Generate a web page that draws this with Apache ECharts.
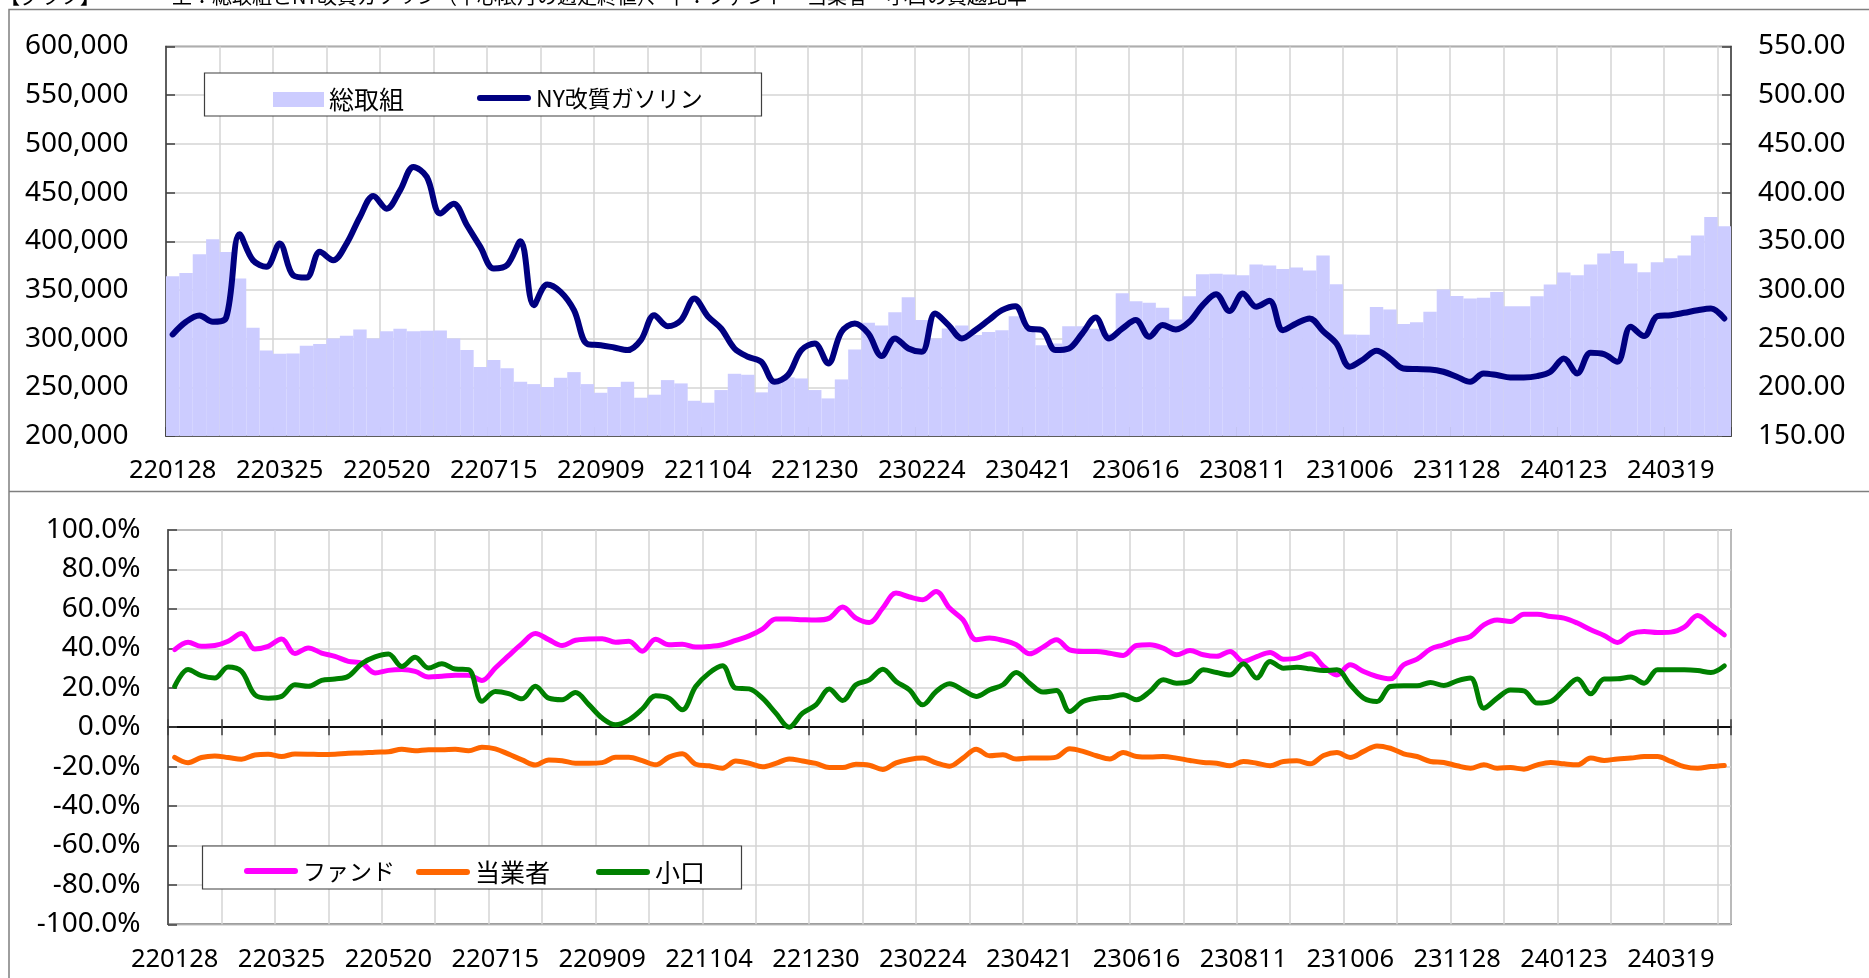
<!DOCTYPE html>
<html><head><meta charset="utf-8">
<script src="https://cdn.jsdelivr.net/npm/echarts@6/dist/echarts.min.js"></script>
<style>html,body{margin:0;padding:0;background:#fff}#c{width:1869px;height:978px}</style>
</head><body><div id="c"></div>
<script>
const dates = ['220128','220204','220211','220218','220225','220304','220311','220318','220325','220401','220408','220415','220422','220429','220506','220513','220520','220527','220603','220610','220617','220624','220701','220708','220715','220722','220729','220805','220812','220819','220826','220902','220909','220916','220923','220930','221007','221014','221021','221028','221104','221111','221118','221125','221202','221209','221216','221223','221230','230106','230113','230120','230127','230203','230210','230217','230224','230303','230310','230317','230324','230331','230407','230414','230421','230428','230505','230512','230519','230526','230602','230609','230616','230623','230630','230707','230714','230721','230728','230804','230811','230818','230825','230901','230908','230915','230922','230929','231006','231010','231017','231024','231031','231107','231114','231121','231128','231205','231212','231219','231226','240102','240109','240116','240123','240130','240206','240213','240220','240227','240305','240312','240319','240326','240402','240409','240416'];

const totalOI = [364100,367500,386700,402000,389000,361700,311100,287900,284400,284800,292700,294400,300200,302900,309400,300200,307700,310100,307700,308000,308400,300200,288200,270800,278000,269700,255700,253300,250300,259800,265600,253300,244400,250300,255700,239300,242400,257400,254000,236200,234200,247200,263900,262900,244800,255000,260200,259100,247200,238600,258100,288900,316200,313500,327200,342600,319000,300200,310400,313500,303600,306700,308700,323100,311100,293300,295000,312800,312800,310100,305300,346700,338500,336800,331600,319700,343600,366200,366500,365800,365100,376100,375100,371600,373000,369900,385300,355900,304300,304000,332600,329900,314900,316900,327500,350400,343900,341200,341900,348000,333300,333300,343600,355600,367900,365100,376100,387400,390100,377100,368200,378500,382600,385300,405800,425000,415400];

const gasoline = [254.3,267.3,273.8,267.3,271.7,357.2,330.5,323.7,347.6,315.1,312.7,339.1,330.5,347.6,375.0,396.5,383.5,402.3,426.3,416.0,378.4,388.6,366.4,344.2,322.0,325.4,350.0,284.4,305.6,298.0,279.2,244.4,243.3,240.9,238.2,248.5,274.1,262.8,268.9,291.2,273.1,260.4,239.9,231.4,226.2,205.7,212.6,238.2,245.0,224.5,257.0,265.6,255.3,232.1,250.2,239.9,236.5,275.8,263.9,250.2,258.7,269.0,279.2,283.3,260.4,258.7,238.2,239.9,255.3,271.7,250.2,260.4,269.0,251.9,263.9,259.4,267.3,284.4,295.5,278.4,296.3,282.7,288.8,258.7,265.6,270.7,257.7,245.0,221.1,228.6,237.5,229.7,219.4,218.7,218.4,216.0,210.9,205.7,214.3,212.6,210.2,210.2,211.5,216.0,229.7,214.3,235.5,234.1,226.2,262.1,252.6,273.1,274.1,276.5,279.2,281.0,270.7];

const fund = [39.3,43.1,41.0,41.4,43.6,47.5,39.7,41.0,44.7,37.3,40.2,37.6,35.9,33.4,32.5,27.5,28.8,29.2,28.3,25.4,25.8,26.3,26.3,23.7,30.0,36.3,42.4,47.5,44.4,41.4,44.1,44.7,44.9,43.1,43.6,38.5,44.6,41.8,42.1,40.6,40.9,41.8,44.0,46.3,49.7,54.8,54.8,54.5,54.3,55.3,60.9,55.3,53.1,60.4,68.0,66.0,64.6,68.8,60.4,54.5,44.3,45.2,44.0,41.8,37.2,40.6,44.3,39.2,38.4,38.4,37.5,36.4,41.4,41.8,40.1,36.7,38.9,36.7,35.9,38.4,33.3,35.8,37.9,34.5,35.0,37.2,30.8,26.5,31.6,28.2,25.7,24.5,31.6,34.5,39.6,41.8,44.3,46.0,51.9,54.4,53.6,57.3,57.3,56.1,55.3,52.8,49.4,46.5,43.0,47.3,48.5,48.0,48.2,50.7,56.6,51.9,46.8];

const commercial = [-15.3,-18.0,-15.4,-14.6,-15.4,-16.3,-14.1,-13.7,-14.9,-13.6,-13.7,-13.9,-13.7,-13.2,-13.1,-12.7,-12.5,-11.2,-12.0,-11.4,-11.4,-11.2,-12.0,-10.2,-11.0,-13.7,-16.6,-19.2,-16.6,-17.0,-18.3,-18.3,-18.0,-15.3,-15.3,-17.0,-19.1,-15.2,-13.5,-18.8,-19.6,-20.8,-17.2,-18.3,-20.1,-18.4,-16.1,-17.2,-18.4,-20.5,-20.5,-18.8,-19.3,-21.5,-18.1,-16.4,-15.7,-18.1,-19.8,-15.7,-11.2,-14.5,-14.0,-16.2,-15.7,-15.7,-15.2,-11.0,-12.3,-14.5,-16.2,-12.9,-14.9,-15.2,-14.9,-15.7,-16.9,-17.9,-18.3,-19.6,-17.4,-18.3,-19.6,-17.4,-17.1,-18.6,-14.4,-12.9,-15.4,-12.3,-9.5,-10.7,-13.5,-14.9,-17.4,-17.9,-19.6,-20.8,-19.1,-20.8,-20.5,-21.3,-19.1,-17.9,-18.6,-19.1,-15.7,-16.9,-16.1,-15.7,-14.9,-14.9,-17.4,-20.0,-20.8,-20.0,-19.4];

const smallTraders = [20.7,29.2,26.1,24.9,30.5,28.3,16.4,14.7,15.6,21.5,20.7,23.7,24.4,25.8,32.2,35.6,37.1,30.8,35.4,30.0,32.2,29.5,29.2,13.1,18.1,17.0,14.4,20.7,14.7,13.9,17.6,11.4,4.6,1.2,3.7,9.2,15.9,14.7,8.8,20.6,27.4,31.1,19.8,19.4,14.7,7.1,0.0,7.1,11.3,19.3,13.5,21.5,24.0,29.4,23.2,18.9,11.3,18.1,22.0,18.9,15.6,18.9,21.5,27.7,22.3,17.8,18.6,7.9,13.0,14.7,15.2,16.4,13.9,18.1,24.0,22.3,23.2,29.1,27.7,26.5,32.1,24.9,33.3,29.9,30.4,29.6,28.7,29.1,21.5,14.7,13.0,20.6,21.0,21.0,22.7,21.1,23.5,24.9,9.6,14.7,18.9,18.4,12.2,13.0,18.9,24.4,16.9,24.4,24.5,25.4,22.3,29.1,29.1,29.1,28.7,27.7,31.1];

const titleTag = '【グラフ】';
const titleText = '上：総取組とNY改質ガソリン（中心限月の週足終値）、下：ファンド・当業者・小口の買越比率';
const seriesNames = ['総取組','NY改質ガソリン','ファンド','当業者','小口'];
const leftAxis = {min:200000, max:600000, interval:50000};
const rightAxis = {min:150, max:550, interval:50};
const ratioAxis = {min:-100, max:100, interval:20};

const NUM_FONT = 'Noto Sans';
const JP_FONT = 'Noto Sans CJK JP';
const gridLine = {show:true, interval:3, lineStyle:{color:'#d4d4d4', width:1.5}};
const axisCol = '#3f3f3f';
const lineIcon = 'path://M3,0 L51,0 A3,3 0 0 1 51,6 L3,6 A3,3 0 0 1 3,0 Z';

function legendAt(name, icon, left, top, w, h, fs){
  return {data:[{name:name, icon:icon}], left:left, top:top, itemWidth:w, itemHeight:h,
    padding:0, itemGap:0, selectedMode:false,
    textStyle:{fontFamily:JP_FONT, fontSize:fs, color:'#000'}};
}

const chart = echarts.init(document.getElementById('c'), null, {renderer:'canvas'});
chart.setOption({
  animation:false,
  backgroundColor:'#fff',
  textStyle:{fontFamily:NUM_FONT},
  grid:[
    {left:166, top:46.5, width:1565, height:389.5, show:true, borderColor:axisCol, borderWidth:1.5, backgroundColor:'transparent'},
    {left:168, top:530, width:1563, height:394.3, show:true, borderColor:axisCol, borderWidth:1.5, backgroundColor:'transparent'}
  ],
  legend:[
    legendAt(seriesNames[0], 'rect', 273, 87, 51, 15, 25),
    legendAt(seriesNames[1], lineIcon, 477, 86.5, 54, 16, 23),
    legendAt(seriesNames[2], lineIcon, 244, 859.6, 54, 16, 23),
    legendAt(seriesNames[3], lineIcon, 416, 859.6, 54, 16, 25),
    legendAt(seriesNames[4], lineIcon, 596, 859.6, 54, 16, 25)
  ],
  xAxis:[
    {gridIndex:0, type:'category', data:dates, boundaryGap:true,
     axisLine:{show:true, lineStyle:{color:axisCol, width:1.5}},
     axisTick:{show:true, inside:true, length:9, interval:7, lineStyle:{color:axisCol, width:1.5}},
     axisLabel:{interval:7, margin:22, fontSize:25.5, color:'#000', fontFamily:NUM_FONT},
     splitLine:gridLine},
    {gridIndex:1, type:'category', data:dates, boundaryGap:true, position:'bottom',
     axisLine:{show:false, onZero:false},
     axisTick:{show:false},
     axisLabel:{interval:7, margin:22, fontSize:25.5, color:'#000', fontFamily:NUM_FONT},
     splitLine:gridLine},
    {gridIndex:1, type:'category', data:dates, boundaryGap:true, position:'bottom',
     axisLine:{show:true, onZero:true, onZeroAxisIndex:2, lineStyle:{color:'#000', width:1.5}},
     axisTick:{show:true, inside:true, length:8, interval:3, lineStyle:{color:axisCol, width:1.5}},
     axisLabel:{show:false}, splitLine:{show:false}},
    {gridIndex:1, type:'category', data:dates, boundaryGap:true, position:'bottom',
     axisLine:{show:true, onZero:true, onZeroAxisIndex:2, lineStyle:{color:'#000', width:1.5}},
     axisTick:{show:true, inside:false, length:8, interval:3, lineStyle:{color:axisCol, width:1.5}},
     axisLabel:{show:false}, splitLine:{show:false}}
  ],
  yAxis:[
    {gridIndex:0, type:'value', position:'left', min:leftAxis.min, max:leftAxis.max, interval:leftAxis.interval,
     axisLine:{show:true, lineStyle:{color:axisCol, width:1.5}},
     axisTick:{show:true, inside:true, length:9, lineStyle:{color:axisCol, width:1.5}},
     axisLabel:{margin:37.5, fontSize:28, color:'#000', fontFamily:NUM_FONT, formatter:v=>v.toLocaleString('en-US')},
     splitLine:{show:true, lineStyle:{color:'#d4d4d4', width:1.5}}},
    {gridIndex:0, type:'value', position:'right', min:rightAxis.min, max:rightAxis.max, interval:rightAxis.interval,
     axisLine:{show:true, lineStyle:{color:axisCol, width:1.5}},
     axisTick:{show:true, inside:true, length:9, lineStyle:{color:axisCol, width:1.5}},
     axisLabel:{margin:27, fontSize:28, color:'#000', fontFamily:NUM_FONT, formatter:v=>v.toFixed(2)},
     splitLine:{show:false}},
    {gridIndex:1, type:'value', position:'left', min:ratioAxis.min, max:ratioAxis.max, interval:ratioAxis.interval,
     axisLine:{show:true, lineStyle:{color:axisCol, width:1.5}},
     axisTick:{show:true, inside:true, length:9, lineStyle:{color:axisCol, width:1.5}},
     axisLabel:{margin:27.5, fontSize:28, color:'#000', fontFamily:NUM_FONT, formatter:v=>v.toFixed(1)+'%'},
     splitLine:{show:true, lineStyle:{color:'#d4d4d4', width:1.5}}}
  ],
  series:[
    {name:seriesNames[0], type:'bar', xAxisIndex:0, yAxisIndex:0, data:totalOI,
     barWidth:'100%', barCategoryGap:'0%', itemStyle:{color:'#ccccff'}, z:1},
    {name:seriesNames[1], type:'line', xAxisIndex:0, yAxisIndex:1, data:gasoline,
     smooth:0.35, symbol:'none', showSymbol:false, color:'#000080',
     lineStyle:{color:'#000080', width:6, cap:'round', join:'round'}, z:3},
    {name:seriesNames[2], type:'line', xAxisIndex:1, yAxisIndex:2, data:fund,
     smooth:0.35, symbol:'none', showSymbol:false, color:'#ff00ff',
     lineStyle:{color:'#ff00ff', width:5, cap:'round', join:'round'}, z:3},
    {name:seriesNames[3], type:'line', xAxisIndex:1, yAxisIndex:2, data:commercial,
     smooth:0.35, symbol:'none', showSymbol:false, color:'#ff6600',
     lineStyle:{color:'#ff6600', width:5, cap:'round', join:'round'}, z:3},
    {name:seriesNames[4], type:'line', xAxisIndex:1, yAxisIndex:2, data:smallTraders,
     smooth:0.35, symbol:'none', showSymbol:false, color:'#008000',
     lineStyle:{color:'#008000', width:5, cap:'round', join:'round'}, z:3}
  ],
  graphic:[
    {type:'rect', z:0, silent:true, shape:{x:9, y:9.5, width:1900, height:1000}, style:{fill:'none', stroke:'#7f7f7f', lineWidth:1.5}},
    {type:'line', z:0, silent:true, shape:{x1:9, y1:491.5, x2:1869, y2:491.5}, style:{stroke:'#7f7f7f', lineWidth:1.5}},
    {type:'rect', z:3, silent:true, shape:{x:204.5, y:73, width:557, height:43}, style:{fill:'#fff', stroke:axisCol, lineWidth:1.2}},
    {type:'rect', z:3, silent:true, shape:{x:202.5, y:846, width:539, height:43}, style:{fill:'#fff', stroke:axisCol, lineWidth:1.2}},
    {type:'text', z:5, silent:true, x:0, y:-14, style:{text:titleTag, font:'20px "Noto Sans CJK JP"', fill:'#000'}},
    {type:'text', z:5, silent:true, x:172, y:-14, style:{text:titleText, font:'20px "Noto Sans CJK JP"', fill:'#000'}}
  ]
});
</script>
</body></html>
